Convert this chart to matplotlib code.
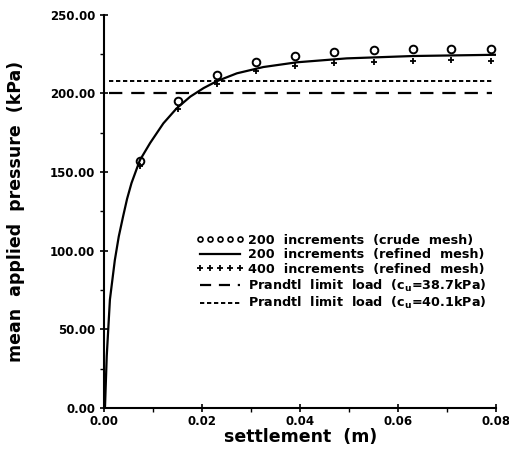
import matplotlib
matplotlib.use("Agg")
import matplotlib.pyplot as plt
from matplotlib.lines import Line2D

# Data
crude_x = [0.0073, 0.0151, 0.0230, 0.0310, 0.0390, 0.0470, 0.0550, 0.0630, 0.0708, 0.0790]
crude_y = [157, 195, 212, 220, 224, 226.5, 227.5, 228, 228.5, 228.5]

refined_x = [0.0, 0.0002, 0.00055, 0.0012, 0.0022, 0.0030, 0.0039, 0.0047, 0.0056,
             0.0073, 0.0094, 0.0121, 0.0148, 0.0176, 0.0203, 0.0230, 0.0271,
             0.0325, 0.0393, 0.0495, 0.0630, 0.0800]
refined_y = [0, 1, 33, 69, 94, 109, 122, 133, 143,
             157.5, 168.5, 181, 190.5, 198, 203.4, 207.8, 212.8,
             216.8, 219.8, 222.3, 223.8, 224.6]

fine_x = crude_x
fine_y = [154, 190, 206, 214, 217.5, 219.5, 220, 220.5, 221, 220.5]

prandtl_x = [0.001, 0.0792]
prandtl_38 = 200.5
prandtl_40 = 208.0

labels = ["200  increments  (crude  mesh)",
          "200  increments  (refined  mesh)",
          "400  increments  (refined  mesh)",
          "Prandtl  limit  load  ($c_u$=38.7kPa)",
          "Prandtl  limit  load  ($c_u$=40.1kPa)"]

plt.rcParams['font.family'] = ['DejaVu Sans']
plt.rcParams['font.weight'] = 'bold'
plt.rcParams['mathtext.default'] = 'bf'

fig = plt.figure(figsize=(5.10, 4.53), dpi=100)
ax = fig.add_axes([0.204, 0.0993, 0.769, 0.868])

ax.plot(crude_x, crude_y, linestyle='none', marker='o', markersize=5.5,
        markerfacecolor='none', markeredgecolor='black', markeredgewidth=1.4)
ax.plot(refined_x, refined_y, color='black', lw=1.6)
ax.plot(fine_x, fine_y, linestyle='none', marker='+', markersize=5,
        markeredgewidth=1.3, color='black')
ax.plot(prandtl_x, [prandtl_38, prandtl_38], color='black', lw=1.6, dashes=(6, 4))
ax.plot(prandtl_x, [prandtl_40, prandtl_40], color='black', lw=1.4, dashes=(2.2, 1.4))

# legend proxies (styles only)
handles = [
    Line2D([], [], linestyle='none', marker='o', markersize=3.6, markerfacecolor='none',
           markeredgecolor='black', markeredgewidth=1.2),
    Line2D([], [], color='black', lw=1.6),
    Line2D([], [], linestyle='none', marker='+', markersize=4.2, markeredgewidth=1.3,
           color='black'),
    Line2D([], [], color='black', lw=1.6, dashes=(5, 3.5)),
    Line2D([], [], color='black', lw=1.4, dashes=(2.2, 1.4)),
]

ax.set_xlim(0, 0.08)
ax.set_ylim(0, 250)
ax.set_xticks([0, 0.02, 0.04, 0.06, 0.08])
ax.set_xticklabels(["0.00", "0.02", "0.04", "0.06", "0.08"])
ax.set_yticks([0, 50, 100, 150, 200, 250])
ax.set_yticklabels(["0.00", "50.00", "100.00", "150.00", "200.00", "250.00"])
ax.set_xticks([0.01, 0.03, 0.05, 0.07], minor=True)
ax.set_yticks([25, 75, 125, 175, 225], minor=True)
ax.tick_params(which='major', direction='inout', length=6, width=1.2, labelsize=8.5)
ax.tick_params(which='minor', direction='out', length=3, width=1.0)
ax.tick_params(axis='x', which='major', pad=2)
for lbl in ax.get_xticklabels() + ax.get_yticklabels():
    lbl.set_fontweight('bold')

for s in ['top', 'right']:
    ax.spines[s].set_visible(False)
for s in ['left', 'bottom']:
    ax.spines[s].set_linewidth(1.5)

ax.set_xlabel("settlement  (m)", fontsize=12.5, fontweight='bold', labelpad=0)
ax.set_ylabel("mean  applied  pressure  (kPa)", fontsize=12.5, fontweight='bold', labelpad=18)

leg = ax.legend(handles, labels, loc='upper left', bbox_to_anchor=(0.223, 0.456),
                frameon=False, fontsize=9.2, numpoints=5, handlelength=3.7,
                handletextpad=0.35, labelspacing=0.12, borderaxespad=0)
for t in leg.get_texts():
    t.set_fontweight('bold')

fig.savefig("out.png", dpi=100)
